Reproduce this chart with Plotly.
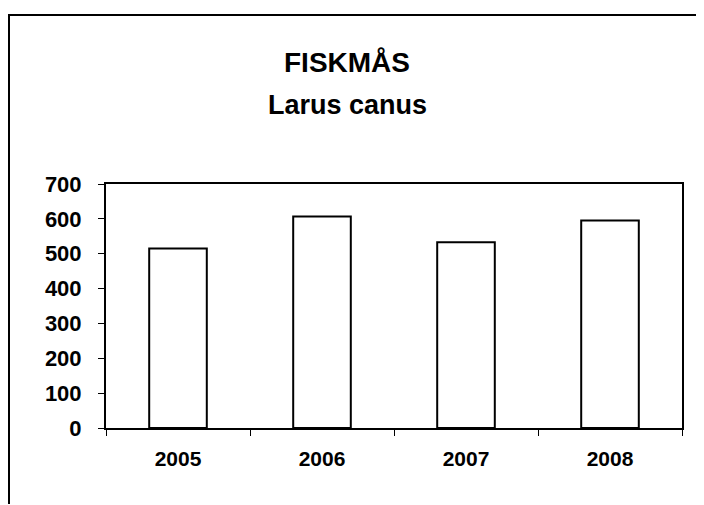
import plotly.graph_objects as go

years = ["2005", "2006", "2007", "2008"]
counts = [515, 607, 533, 595]
y_ticks = [0, 100, 200, 300, 400, 500, 600, 700]
title_main = "FISKMÅS"
title_sub = "Larus canus"

# the page has an 8px body margin; figure is sized/offset to compensate
OFF = 8
W, H = 704 - OFF, 505 - OFF
PL, PR, PT, PB = 106, 682, 184, 428  # plot area in page pixels
L, T = PL - OFF, PT - OFF
R = W - (PR - OFF)
B = H - (PB - OFF)

def px_x(x):
    return (x - PL) / (PR - PL)

def px_y(y):
    return (PB - y) / (PB - PT)

font = "Arial, Liberation Sans, sans-serif"

fig = go.Figure(go.Bar(
    x=years, y=counts,
    marker=dict(color="white", line=dict(color="black", width=2)),
))

frame_line = dict(color="black", width=2)

fig.update_layout(
    width=W, height=H,
    margin=dict(l=L, r=R, t=T, b=B, pad=0),
    paper_bgcolor="white", plot_bgcolor="white",
    bargap=0.6,
    showlegend=False,
    font=dict(family=font, color="black"),
    xaxis=dict(
        type="category", showline=True, linecolor="black", linewidth=2,
        mirror=True, ticks="outside", tickson="boundaries", ticklen=6,
        tickcolor="black", tickwidth=1, showgrid=False,
        tickfont=dict(family=font, size=21, color="black", weight="bold"),
        ticklabelstandoff=11,
    ),
    yaxis=dict(
        range=[0, 700], tickvals=y_ticks, showline=True, linecolor="black",
        linewidth=2, mirror=True, ticks="outside", ticklen=6, tickcolor="black",
        tickwidth=1, showgrid=False, zeroline=False,
        tickfont=dict(family=font, size=22, color="black", weight="bold"),
        ticklabelstandoff=12,
    ),
    annotations=[
        dict(text="<b>" + title_main + "</b>", xref="paper", yref="paper",
             x=px_x(347), y=px_y(62), xanchor="center", yanchor="middle",
             showarrow=False, font=dict(family=font, size=28, color="black")),
        dict(text="<b>" + title_sub + "</b>", xref="paper", yref="paper",
             x=px_x(347), y=px_y(105), xanchor="center", yanchor="middle",
             showarrow=False, font=dict(family=font, size=27, color="black")),
    ],
    shapes=[
        dict(type="line", xref="paper", yref="paper",
             x0=px_x(8), x1=px_x(703), y0=px_y(15), y1=px_y(15),
             line=frame_line, layer="above"),
        dict(type="line", xref="paper", yref="paper",
             x0=px_x(9), x1=px_x(9), y0=px_y(14), y1=px_y(504),
             line=frame_line, layer="above"),
    ],
)

fig.write_html("out.html")
